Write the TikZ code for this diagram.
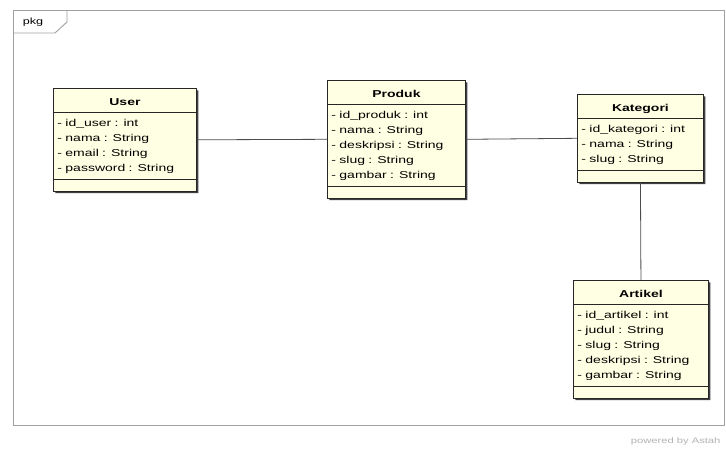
\documentclass[tikz,border=0pt]{standalone}
\usepackage{fontspec}
\setsansfont[FakeStretch=1.4]{Liberation Sans}
\renewcommand{\familydefault}{\sfdefault}
\usetikzlibrary{shapes.multipart,shadows}

\definecolor{classfill}{HTML}{FFFFE3}
\definecolor{framegray}{HTML}{A0A0A0}

\newcommand{\classname}[1]{\rule[-3.5pt]{0pt}{17pt}\hfill\textbf{#1}\hfill\null}
\newcommand{\attr}[1]{\strut #1}
\newcommand{\emptypart}{\rule{0pt}{5pt}}

\tikzset{
    classbox/.style={rectangle split, rectangle split parts=3, draw=black!85,
        line width=0.9pt, fill=classfill, inner xsep=4pt, inner ysep=3pt,
        align=left, anchor=north west,
        font=\fontsize{10}{15}\selectfont,
        drop shadow={shadow xshift=2pt, shadow yshift=-2pt, fill=black!75, opacity=1}},
    assoc/.style={draw=black!70, line width=0.8pt}
}

\begin{document}
\begin{tikzpicture}[x=1pt,y=-1pt]
    \useasboundingbox (0,0) rectangle (726,453);

    \draw[framegray, line width=0.9pt] (13,10) rectangle (724,425);
    \draw[framegray, line width=0.9pt] (13,33) -- (55,33) -- (67,22) -- (67,10);
    \node[font=\fontsize{9}{10}\selectfont] (pkg) at (33,22) {pkg};

    \node[classbox, text width=135pt] (user) at (53,88) {\classname{User}
        \nodepart{two}\attr{- id\_user : int}\\\attr{- nama : String}\\\attr{- email : String}\\\attr{- password : String}
        \nodepart{three}\emptypart};

    \node[classbox, text width=130pt] (produk) at (327,80) {\classname{Produk}
        \nodepart{two}\attr{- id\_produk : int}\\\attr{- nama : String}\\\attr{- deskripsi : String}\\\attr{- slug : String}\\\attr{- gambar : String}
        \nodepart{three}\emptypart};

    \node[classbox, text width=118pt] (kategori) at (577,94) {\classname{Kategori}
        \nodepart{two}\attr{- id\_kategori : int}\\\attr{- nama : String}\\\attr{- slug : String}
        \nodepart{three}\emptypart};

    \node[classbox, text width=127pt] (artikel) at (573,280) {\classname{Artikel}
        \nodepart{two}\attr{- id\_artikel : int}\\\attr{- judul : String}\\\attr{- slug : String}\\\attr{- deskripsi : String}\\\attr{- gambar : String}
        \nodepart{three}\emptypart};

    \draw[assoc] (user.east) -- (produk.west);
    \draw[assoc] (produk.east) -- (kategori.west);
    \draw[assoc] (kategori.south) -- (artikel.north);

    \node[anchor=east, text=black!30, font=\fontsize{8}{9}\selectfont] (credit) at (724,441) {powered by Astah};
\end{tikzpicture}
\end{document}
